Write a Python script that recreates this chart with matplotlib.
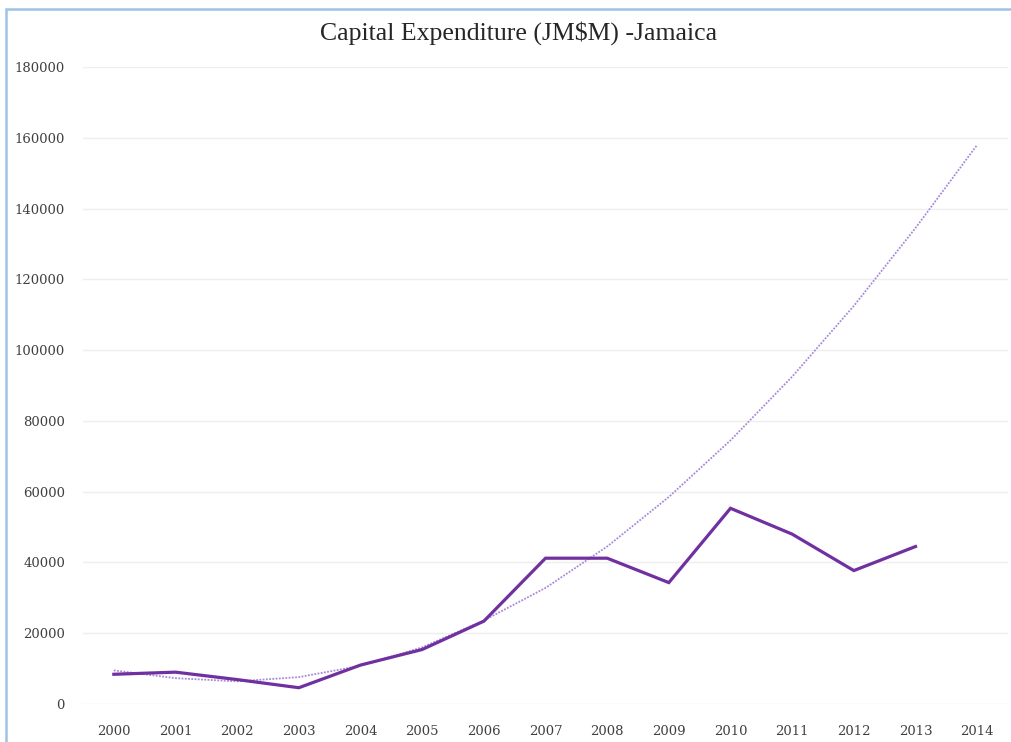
import numpy as np
import matplotlib
matplotlib.use("Agg")
import matplotlib.pyplot as plt
from matplotlib.patches import Rectangle

# values (JM$ millions)
years = ["2000", "2001", "2002", "2003", "2004", "2005", "2006", "2007",
         "2008", "2009", "2010", "2011", "2012", "2013", "2014"]
capex = [8400, 9000, 6900, 4600, 11000, 15400, 23400, 41200,
         41200, 34300, 55300, 48000, 37700, 44500]
# dotted trend line as drawn in the original
trend = [9500, 7300, 6400, 7600, 10800, 16000, 23600, 32800,
         44500, 58500, 74500, 92500, 112500, 134500, 158000]

PURPLE = "#7030a0"
TREND = "#a888d8"

fig = plt.figure(figsize=(10.12, 7.42), dpi=100)
ax = fig.add_axes([83 / 1012, 1 - 704 / 742, 925 / 1012, 637 / 742])

x = np.arange(len(years))
ax.plot(x[:len(capex)], capex, color=PURPLE, lw=2.3, solid_joinstyle="miter", zorder=3)
ax.plot(x, trend, color=TREND, lw=1.3, ls=(0, (1, 0.8)), zorder=2)

ax.set_xlim(-0.5, len(years) - 0.5)
ax.set_ylim(0, 180000)
ax.set_xticks(x)
ax.set_xticklabels(years)
ax.set_yticks(np.arange(0, 180001, 20000))
ax.yaxis.grid(True, color="#eeeeee", lw=1)
ax.set_axisbelow(True)
for s in ax.spines.values():
    s.set_visible(False)
ax.tick_params(axis="both", length=0, labelsize=9.5, labelcolor="#404040")
ax.tick_params(axis="y", pad=13)
ax.tick_params(axis="x", pad=15)
for lab in ax.get_xticklabels() + ax.get_yticklabels():
    lab.set_family("DejaVu Serif")

fig.text(519 / 1012, 1 - 33 / 742, "Capital Expenditure (JM$M) -Jamaica",
         ha="center", va="center", fontsize=18.5, family="Liberation Serif", color="#262626")

# light blue chart-area border (right/bottom cut off by the crop)
top = 1 - 9 / 742
fig.patches.append(Rectangle((6 / 1012, -0.1), 1.2, top + 0.1,
                             transform=fig.transFigure, fill=False,
                             edgecolor="#9dc3e6", lw=1.8))

fig.savefig("out.png", dpi=100)
